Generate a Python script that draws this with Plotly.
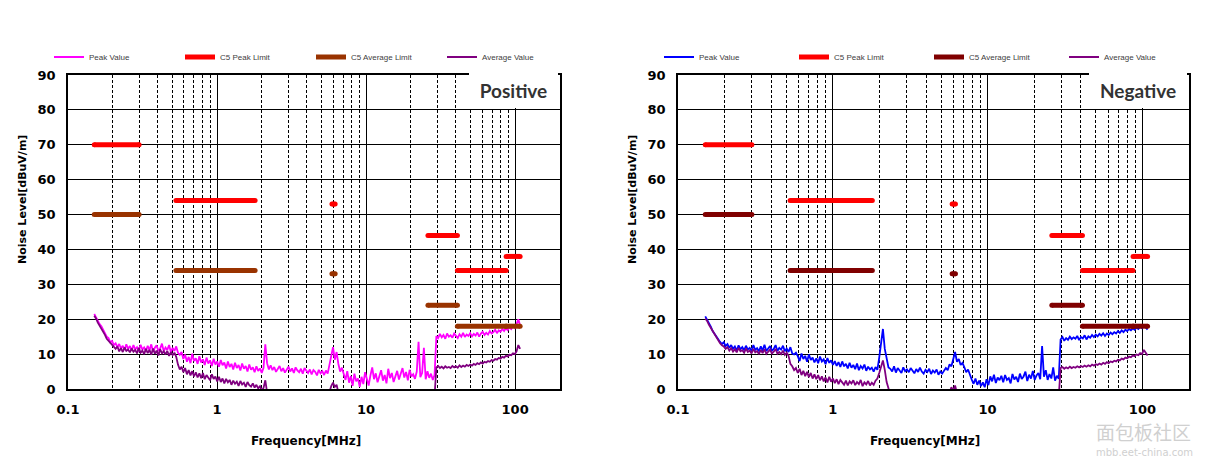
import numpy as np
import plotly.graph_objects as go

# ---------------- data ----------------
# measurement sweep (MHz), 240 log-spaced points from 0.15 to 108 MHz
freq_mhz = np.geomspace(0.15, 108, 240)

pos_peak = [
    21.5, 20.5, 19.8, 18.6, 18.0, 16.9, 16.2, 15.0, 14.6, 13.4,
    13.8, 12.6, 13.1, 12.0, 12.9, 11.6, 12.4, 11.2, 12.8, 11.5,
    12.3, 11.0, 12.6, 11.4, 12.0, 10.8, 12.7, 11.3, 11.9, 10.9,
    12.4, 11.1, 12.8, 10.7, 11.8, 12.5, 10.9, 11.6, 13.0, 10.8,
    11.9, 11.2, 12.6, 10.6, 11.8, 10.9, 12.2, 10.4, 9.8, 10.6,
    8.6, 9.9, 7.8, 9.2, 7.4, 10.1, 8.0, 8.8, 7.2, 9.4,
    7.6, 8.5, 6.9, 9.0, 7.3, 8.2, 6.6, 8.7, 7.0, 7.9,
    6.4, 8.3, 6.8, 7.6, 5.9, 7.9, 6.3, 7.2, 5.6, 7.5,
    6.0, 6.9, 5.3, 7.3, 5.8, 6.6, 5.0, 7.0, 5.5, 6.2,
    4.8, 6.5, 5.2, 5.9, 4.6, 6.1, 12.8, 7.4, 5.6, 6.8,
    5.4, 6.3, 4.9, 5.8, 6.6, 5.1, 6.0, 4.7, 5.7, 6.4,
    5.0, 5.9, 4.6, 6.2, 5.3, 4.8, 5.8, 4.4, 6.0, 5.2,
    4.6, 5.6, 4.2, 5.4, 4.9, 3.9, 5.5, 4.5, 5.1, 4.0,
    5.3, 4.4, 6.8, 9.5, 12.0, 8.4, 10.6, 7.2, 5.0, 6.1,
    4.2, 2.6, 5.1, 1.8, 3.7, 0.9, 4.4, 2.2, 3.0, 0.6,
    3.5, 1.4, 4.8, 2.5, 1.0, 3.9, 6.2, 2.8, 4.5, 1.9,
    3.6, 5.4, 2.4, 4.0, 1.6, 5.8, 3.1, 4.6, 2.0, 3.8,
    5.2, 2.7, 4.4, 6.0, 3.3, 4.9, 2.5, 5.5, 3.6, 4.2,
    2.9, 5.0, 13.5, 3.4, 4.6, 11.8, 2.8, 5.1, 3.2, 4.4,
    2.6, 4.0, 15.2, 14.6, 15.8, 14.8, 15.5, 14.4, 15.9, 15.0,
    15.4, 14.7, 15.9, 15.1, 14.6, 15.7, 15.0, 16.1, 14.9, 15.6,
    15.2, 16.0, 15.1, 15.8, 15.3, 16.2, 15.0, 15.9, 16.4, 15.5,
    16.1, 15.6, 16.6, 15.9, 16.3, 17.0, 16.0, 16.8, 16.4, 17.2,
    16.6, 17.4, 16.9, 17.7, 17.2, 18.0, 17.5, 18.6, 20.0, 18.2,
]

pos_avg = [
    21.0, 20.2, 19.0, 18.2, 17.2, 16.4, 15.5, 14.4, 13.8, 13.0,
    12.6, 12.0, 11.5, 12.2, 10.8, 11.7, 10.6, 11.9, 10.9, 11.3,
    10.5, 11.6, 10.7, 11.2, 10.2, 11.8, 10.4, 11.0, 10.0, 11.5,
    10.3, 11.2, 9.8, 11.6, 10.1, 11.0, 9.6, 11.4, 10.2, 10.8,
    9.9, 10.9, 9.5, 10.6, 9.7, 10.4, 9.2, 7.0, 5.6, 6.4,
    4.8, 6.0, 4.2, 5.4, 3.9, 5.1, 3.6, 4.8, 3.3, 4.5,
    3.1, 4.6, 2.8, 4.0, 3.4, 2.5, 4.2, 2.9, 3.6, 2.2,
    3.5, 2.0, 3.0, 1.6, 2.9, 1.9, 2.6, 1.2, 2.4, 1.5,
    2.1, 0.9, 2.3, 1.3, 1.8, 0.6, 2.0, 1.1, 0.7, 1.6,
    0.4, 1.2, 0.2, 0.8, -0.5, 0.3, 2.5, -1.0, -1.5, -2.0,
    -2.2, -1.8, -2.5, -2.0, -1.6, -2.4, -2.1, -1.9, -2.6, -2.0,
    -1.7, -2.3, -2.0, -2.5, -1.8, -2.2, -2.4, -1.9, -2.1, -2.6,
    -2.0, -1.8, -2.3, -2.1, -2.5, -1.7, -2.2, -2.0, -2.4, -1.9,
    -2.0, -1.8, -0.8, 0.8, 1.8, 0.6, 1.2, -1.0, -2.0, -2.3,
    -2.1, -2.5, -1.9, -2.2, -2.6, -2.0, -1.8, -2.4, -2.1, -2.3,
    -2.0, -2.6, -1.9, -2.2, -2.4, -2.0, -1.7, -2.3, -2.5, -2.1,
    -1.9, -2.2, -2.4, -2.0, -2.6, -1.8, -2.3, -2.1, -2.5, -2.0,
    -2.2, -1.9, -2.4, -2.1, -2.0, -2.5, -1.8, -2.3, -2.2, -2.0,
    -2.4, -2.1, -1.9, -2.3, -2.0, -2.5, -2.2, -1.8, -2.1, -2.4,
    -2.1, -1.9, 6.2, 6.6, 6.0, 6.4, 5.9, 6.5, 6.1, 6.3,
    6.0, 6.6, 6.2, 6.5, 6.1, 6.8, 6.3, 6.7, 6.4, 6.9,
    6.6, 7.0, 6.7, 7.2, 6.9, 7.4, 7.1, 7.6, 7.3, 7.8,
    7.6, 8.0, 7.8, 8.3, 8.1, 8.6, 8.4, 8.9, 8.7, 9.2,
    9.0, 9.5, 9.3, 9.8, 9.7, 10.2, 10.0, 10.8, 12.6, 11.5,
]

neg_peak = [
    20.8, 19.9, 18.8, 17.9, 16.6, 15.8, 14.9, 14.2, 13.5, 12.9,
    13.4, 12.3, 12.9, 11.8, 12.6, 11.5, 12.2, 11.0, 12.5, 11.4,
    12.0, 11.1, 12.4, 11.3, 11.8, 10.9, 12.6, 11.2, 11.7, 10.8,
    12.2, 11.0, 12.7, 10.9, 11.6, 12.3, 11.0, 11.5, 12.6, 10.9,
    11.8, 11.3, 12.4, 10.8, 11.6, 10.6, 12.0, 10.2, 9.9, 10.4,
    9.4, 8.0, 10.2, 8.6, 9.5, 7.8, 9.9, 8.3, 9.0, 7.6,
    8.8, 7.4, 9.3, 7.9, 8.5, 7.1, 8.9, 7.5, 8.2, 6.9,
    8.0, 6.6, 7.7, 6.3, 7.9, 6.5, 7.2, 5.9, 7.5, 6.1,
    6.9, 5.7, 7.3, 5.4, 6.6, 5.9, 7.0, 5.2, 6.4, 5.6,
    6.1, 5.0, 6.3, 5.5, 9.0, 14.0, 17.2, 11.5, 8.4, 6.2,
    5.8, 5.0, 6.5, 4.7, 6.0, 5.3, 4.6, 6.2, 5.1, 5.6,
    4.8, 6.0, 5.2, 4.5, 5.7, 4.9, 6.1, 5.0, 4.4, 5.5,
    4.9, 5.8, 4.3, 5.3, 4.7, 5.6, 4.1, 5.0, 4.4, 5.2,
    6.0, 5.4, 7.1, 6.5, 8.3, 10.6, 7.8, 8.6, 6.9, 7.5,
    6.2, 4.8, 5.6, 3.9, 2.7, 1.5, 3.0, 1.2, 2.4, 0.8,
    1.9, 0.5, 2.8, 1.1, 3.6, 2.2, 4.1, 1.7, 3.3, 2.5,
    3.8, 1.9, 4.0, 2.6, 3.1, 1.6, 4.3, 2.7, 3.5, 2.0,
    4.4, 2.9, 3.6, 5.0, 2.3, 4.1, 3.0, 5.2, 2.6, 3.9,
    4.6, 2.8, 12.3, 3.5, 5.4, 2.6, 4.3, 3.0, 6.2, 2.4,
    3.8, 2.9, 14.2, 14.9, 13.8, 14.6, 14.1, 15.0, 14.3, 14.8,
    14.4, 15.2, 14.0, 14.9, 14.5, 15.4, 14.2, 15.1, 14.7, 15.5,
    14.9, 15.6, 15.1, 15.8, 15.3, 16.0, 15.2, 15.9, 15.5, 16.2,
    15.7, 16.3, 15.9, 16.6, 16.1, 16.8, 16.3, 17.0, 16.6, 17.2,
    16.8, 17.4, 17.0, 17.6, 17.2, 17.8, 17.4, 18.2, 17.6, 17.0,
]

neg_avg = [
    20.2, 19.5, 18.4, 17.5, 16.4, 15.6, 14.7, 13.8, 13.1, 12.5,
    12.2, 11.5, 12.0, 11.0, 11.7, 10.7, 11.4, 10.5, 11.8, 10.8,
    11.1, 10.4, 11.6, 10.6, 11.0, 10.2, 11.5, 10.5, 10.9, 10.0,
    11.2, 10.3, 11.4, 10.1, 10.8, 11.3, 10.2, 10.7, 11.5, 10.1,
    10.6, 10.0, 11.0, 9.8, 10.4, 9.5, 7.2, 6.5, 5.4, 6.0,
    4.6, 5.8, 4.0, 5.2, 3.7, 4.9, 3.4, 4.6, 3.0, 4.2,
    2.8, 4.0, 2.5, 3.6, 2.2, 3.3, 1.9, 3.5, 2.1, 3.0,
    1.7, 2.8, 1.4, 2.6, 1.9, 1.2, 2.4, 1.0, 2.2, 1.6,
    2.5, 1.1, 2.0, 1.4, 2.6, 0.8, 1.9, 1.3, 2.3, 1.0,
    1.8, 1.2, 2.4, 3.0, 4.6, 6.8, 8.2, 5.5, 2.0, 0.2,
    -2.0, -2.3, -1.8, -2.5, -2.1, -1.9, -2.4, -2.0, -2.2, -1.7,
    -2.3, -2.0, -2.5, -1.8, -2.2, -2.1, -1.9, -2.4, -2.0, -2.6,
    -2.1, -1.8, -2.3, -2.0, -2.5, -1.9, -2.2, -2.4, -2.0, -1.8,
    -2.0, -2.2, -1.0, 0.5, -0.6, 1.0, -1.2, -2.0, -2.3, -1.9,
    -2.2, -2.0, -2.5, -1.8, -2.1, -2.4, -2.0, -1.9, -2.3, -2.1,
    -2.4, -1.9, -2.2, -2.0, -2.6, -1.8, -2.1, -2.3, -2.0, -2.5,
    -1.8, -2.2, -2.0, -2.4, -2.1, -1.9, -2.5, -2.0, -2.2, -2.3,
    -2.0, -2.4, -1.9, -2.1, -2.3, -2.0, -2.6, -1.8, -2.2, -2.1,
    -2.3, -2.0, -1.9, -2.4, -2.1, -2.2, -2.0, -1.8, -2.5, -2.1,
    -2.0, -2.2, 6.0, 6.3, 5.8, 6.2, 5.9, 6.4, 6.0, 6.3,
    6.1, 6.5, 6.2, 6.6, 6.3, 6.7, 6.4, 6.8, 6.5, 7.0,
    6.7, 7.1, 6.9, 7.3, 7.0, 7.5, 7.2, 7.7, 7.4, 7.9,
    7.7, 8.1, 7.9, 8.4, 8.2, 8.7, 8.5, 9.0, 8.8, 9.3,
    9.1, 9.6, 9.4, 9.9, 9.7, 10.3, 10.0, 11.2, 10.4, 9.6,
]

# CISPR 25 class 5 limit bands (MHz) and levels (dBuV/m)
band_start = [0.15, 0.53, 5.9, 26.0, 41.0, 87.0]
band_stop = [0.30, 1.80, 6.2, 41.0, 87.0, 108.0]
peak_limit = [70, 54, 53, 44, 34, 38]
avg_limit = [50, 34, 33, 24, 18, 18]

x_tickvals = [0.1, 1, 10, 100]
x_ticktext = ["0.1", "1", "10", "100"]
x_minor = [0.2, 0.3, 0.4, 0.5, 0.6, 0.7, 0.8, 0.9,
           2, 3, 4, 5, 6, 7, 8, 9,
           20, 30, 40, 50, 60, 70, 80, 90]
y_ticks = [0, 10, 20, 30, 40, 50, 60, 70, 80, 90]

panels = [
    dict(name="Positive", peak=pos_peak, avg=pos_avg,
         peak_color="#FF00FF", limit_color="#FF0000", avg_limit_color="#993300",
         avg_color="#800080"),
    dict(name="Negative", peak=neg_peak, avg=neg_avg,
         peak_color="#0000FF", limit_color="#FF0000", avg_limit_color="#800000",
         avg_color="#800080"),
]

# ---------------- figure ----------------
W, H = 1225, 467
OFF = 8  # page body margin offset (px)
fig = go.Figure()


def seg_xy(levels):
    xs, ys = [], []
    for a, b, v in zip(band_start, band_stop, levels):
        xs += [a, b, None]
        ys += [v, v, None]
    return xs, ys


def px(x):
    return (x - OFF) / W


def py(y):
    return 1 - (y - OFF) / H


for k, p in enumerate(panels):
    xa = "x" if k == 0 else "x2"
    ya = "y" if k == 0 else "y2"
    leg = "legend" if k == 0 else "legend2"
    fig.add_trace(go.Scatter(x=freq_mhz, y=p["peak"], mode="lines", name="Peak Value",
                             line=dict(color=p["peak_color"], width=1.8),
                             xaxis=xa, yaxis=ya, legend=leg))
    px_, py_ = seg_xy(peak_limit)
    fig.add_trace(go.Scatter(x=px_, y=py_, mode="lines", name="C5 Peak Limit",
                             line=dict(color=p["limit_color"], width=5),
                             xaxis=xa, yaxis=ya, legend=leg))
    ax_, ay_ = seg_xy(avg_limit)
    fig.add_trace(go.Scatter(x=ax_, y=ay_, mode="lines", name="C5 Average Limit",
                             line=dict(color=p["avg_limit_color"], width=5),
                             xaxis=xa, yaxis=ya, legend=leg))
    fig.add_trace(go.Scatter(x=freq_mhz, y=p["avg"], mode="lines", name="Average Value",
                             line=dict(color=p["avg_color"], width=1.8),
                             xaxis=xa, yaxis=ya, legend=leg))
    # rounded caps for limit segments
    fig.add_trace(go.Scatter(x=px_, y=py_, mode="markers", showlegend=False,
                             marker=dict(color=p["limit_color"], size=5),
                             xaxis=xa, yaxis=ya, hoverinfo="skip"))
    fig.add_trace(go.Scatter(x=ax_, y=ay_, mode="markers", showlegend=False,
                             marker=dict(color=p["avg_limit_color"], size=5),
                             xaxis=xa, yaxis=ya, hoverinfo="skip"))

TICK_FONT = dict(family="DejaVu Sans", size=13, color="black", weight="bold")

domains = [(px(68), px(560)), (px(678), px(1189))]
ydom = [py(389), py(75)]

for k, (d0, d1) in enumerate(domains):
    sx = "" if k == 0 else "2"
    fig.layout["xaxis" + sx] = dict(
        type="log", range=[-1, np.log10(200)], domain=[d0, d1],
        anchor="y" + sx, automargin=False,
        tickmode="array", tickvals=x_tickvals, ticktext=x_ticktext,
        tickfont=TICK_FONT, ticks="", ticklabelstandoff=8,
        showgrid=True, gridcolor="black", gridwidth=1.2,
        minor=dict(tickvals=x_minor, showgrid=True, gridcolor="black",
                   gridwidth=1, griddash="3px,2px", ticks=""),
        showline=True, linecolor="black", linewidth=1.6, mirror=True,
        zeroline=False,
    )
    fig.layout["yaxis" + sx] = dict(
        range=[0, 90], domain=ydom, anchor="x" + sx, automargin=False,
        tickmode="array", tickvals=y_ticks,
        tickfont=TICK_FONT, ticks="", ticklabelstandoff=8,
        showgrid=True, gridcolor="black", gridwidth=1.2,
        showline=True, linecolor="black", linewidth=1.6, mirror=True,
        zeroline=False,
    )

LEG_FONT = dict(family="Liberation Sans", size=8, color="#404040")
fig.update_layout(
    width=W, height=H,
    margin=dict(l=0, r=0, t=0, b=0, autoexpand=False),
    paper_bgcolor="white", plot_bgcolor="white",
    legend=dict(orientation="h", x=px(49), xanchor="left", y=py(57), yanchor="middle",
                entrywidth=86, entrywidthmode="pixels", font=LEG_FONT,
                bgcolor="rgba(0,0,0,0)", traceorder="normal"),
    legend2=dict(orientation="h", x=px(659), xanchor="left", y=py(57), yanchor="middle",
                 entrywidth=90, entrywidthmode="pixels", font=LEG_FONT,
                 bgcolor="rgba(0,0,0,0)", traceorder="normal"),
)

TITLE_FONT = dict(family="DejaVu Sans", size=11, color="black", weight="bold")
XT_FONT = dict(family="DejaVu Sans", size=12, color="black", weight="bold")
ann = []
for k, (d0, d1) in enumerate(domains):
    sx = "" if k == 0 else "2"
    # y-axis title
    ann.append(dict(text="Noise Level[dBuV/m]", textangle=-90, font=TITLE_FONT,
                    xref="paper", yref="paper", x=px(22 if k == 0 else 632), y=py(200),
                    xanchor="center", yanchor="middle", showarrow=False))
    # x-axis title
    ann.append(dict(text="Frequency[MHz]", font=XT_FONT,
                    xref="paper", yref="paper", x=px(306 if k == 0 else 925), y=py(441),
                    xanchor="center", yanchor="middle", showarrow=False))
    # polarity label box
    bw = 89 if k == 0 else 98
    ann.append(dict(text=panels[k]["name"],
                    font=dict(family="Lato", size=19, color="#333333", weight="bold"),
                    xref="x" + sx + " domain", yref="y" + sx + " domain", x=1, y=1,
                    xanchor="right", yanchor="top", xshift=-2, yshift=2,
                    width=bw, height=35, bgcolor="white", borderpad=0, borderwidth=0,
                    align="center", valign="middle", showarrow=False))

# watermark text
ann.append(dict(text="面包板社区", font=dict(family="Noto Sans CJK SC", size=19, color="#d0d0d0"),
                xref="paper", yref="paper", x=px(1094), y=py(431),
                xanchor="left", yanchor="middle", showarrow=False))
ann.append(dict(text="mbb.eet-china.com", font=dict(family="DejaVu Sans", size=10, color="#d0d0d0"),
                xref="paper", yref="paper", x=px(1094), y=py(452),
                xanchor="left", yanchor="middle", showarrow=False))
fig.update_layout(annotations=ann)

fig.write_html("out.html")
